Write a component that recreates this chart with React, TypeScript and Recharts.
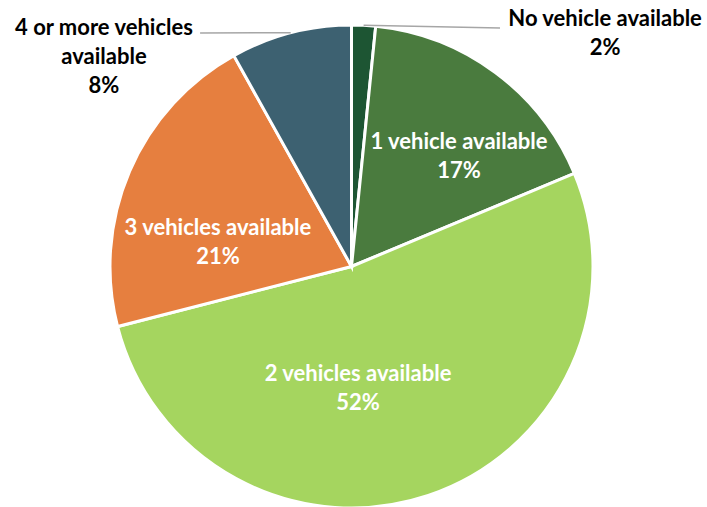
import React from "react";
import { PieChart, Pie, Cell } from "recharts";

const categories = [
  "No vehicle available",
  "1 vehicle available",
  "2 vehicles available",
  "3 vehicles available",
  "4 or more vehicles available",
];
const shares = [1.6, 17.1, 52.3, 20.9, 8.1];
const labelLines: string[][] = [
  ["No vehicle available"],
  ["1 vehicle available"],
  ["2 vehicles available"],
  ["3 vehicles available"],
  ["4 or more vehicles", "available"],
];

const colors = ["#1D5533", "#4A7B3E", "#A5D55F", "#E67F3F", "#3D6171"];
const textColors = ["#000000", "#FFFFFF", "#FFFFFF", "#FFFFFF", "#000000"];

// label block centres, in units of outer radius, relative to pie centre
const labelOffsets = [
  [1.05, -0.973],
  [0.445, -0.462],
  [0.027, 0.501],
  [-0.553, -0.104],
  [-1.025, -0.874],
];
// leader line ends (only for outside labels)
const leaderEnds: (number[] | null)[] = [[0.615, -0.988], null, null, null, [-0.627, -0.967]];

const data = categories.map((name, i) => ({ name, value: shares[i] }));

const FONT = "Lato, 'Open Sans', sans-serif";
const FS = 22;
const LH = 29;

const renderLabel = (props: any) => {
  const { cx, cy, midAngle, outerRadius, index, percent } = props;
  const R = outerRadius;
  const off = labelOffsets[index];
  const x = cx + off[0] * R;
  const y = cy + off[1] * R;
  const lines = [...labelLines[index], `${Math.round(percent * 100)}%`];
  const n = lines.length;
  const rad = (Math.PI / 180) * midAngle;
  const sx = cx + R * Math.cos(rad);
  const sy = cy - R * Math.sin(rad);
  const le = leaderEnds[index];
  return (
    <g key={`lbl-${index}`}>
      {le && (
        <line
          x1={sx}
          y1={sy}
          x2={cx + le[0] * R}
          y2={cy + le[1] * R}
          stroke="#A6A6A6"
          strokeWidth={1.5}
        />
      )}
      <text
        x={x}
        y={y}
        textAnchor="middle"
        fill={textColors[index]}
        fontFamily={FONT}
        fontWeight="bold"
        fontSize={FS}
      >
        {lines.map((l, k) => (
          <tspan key={k} x={x} y={y + (k - (n - 1) / 2) * LH} dominantBaseline="central">
            {l}
          </tspan>
        ))}
      </text>
    </g>
  );
};

export default function App() {
  return (
    <div style={{ position: "fixed", left: 0, top: 0, width: 707, height: 507, background: "#fff" }}>
      <PieChart width={707} height={507} margin={{ top: 0, right: 0, bottom: 0, left: 0 }}>
        <Pie
          data={data}
          dataKey="value"
          nameKey="name"
          cx={351.5}
          cy={266.5}
          outerRadius={241.5}
          startAngle={90}
          endAngle={-270}
          stroke="#FFFFFF"
          strokeWidth={3}
          label={renderLabel}
          labelLine={false}
          isAnimationActive={false}
        >
          {data.map((d, i) => (
            <Cell key={d.name} fill={colors[i]} />
          ))}
        </Pie>
      </PieChart>
    </div>
  );
}
